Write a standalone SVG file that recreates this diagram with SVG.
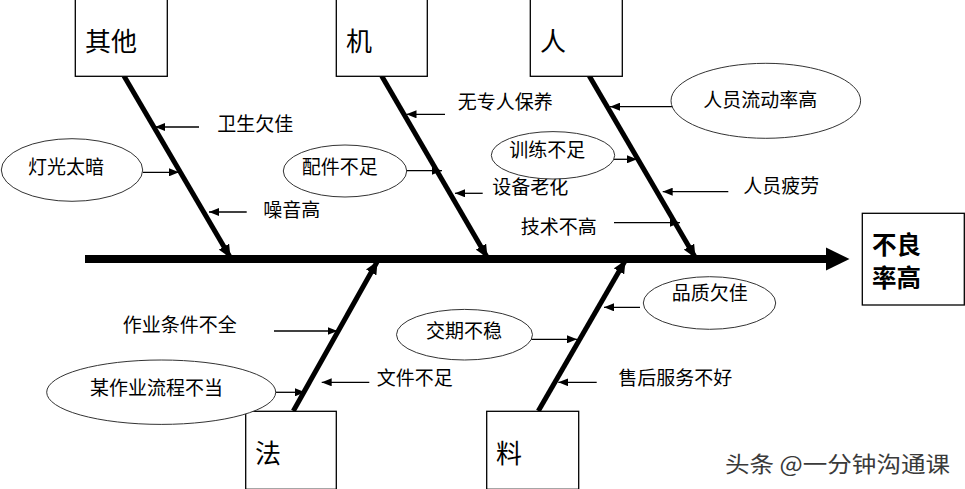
<svg xmlns="http://www.w3.org/2000/svg" width="965" height="489" viewBox="0 0 965 489">
<style>
text{font-family:"Noto Sans CJK SC","Noto Sans",sans-serif;fill:#000;dominant-baseline:central}
.box{fill:#fff;stroke:#000;stroke-width:1.3}
.ell{fill:#fff;stroke:#333;stroke-width:1}
.lbl{font-size:19px}
.cat{font-size:26px}
.res{font-size:24.5px;font-weight:bold}
.bone{stroke:#000;stroke-width:5;fill:none}
.thin{stroke:#000;stroke-width:1.3;fill:none;marker-end:url(#ah)}
.wm{font-size:22px;fill:#3a3a3a}
</style>
<defs>
<marker id="ah" markerUnits="userSpaceOnUse" markerWidth="10" markerHeight="8" refX="10" refY="4" orient="auto">
<path d="M0,0 L10,4 L0,8 z" fill="#000"/>
</marker>
<marker id="bh" markerUnits="userSpaceOnUse" markerWidth="13" markerHeight="12" refX="12" refY="6" orient="auto">
<path d="M0,0 L13,6 L0,12 z" fill="#000"/>
</marker>
</defs>

<g id="connectors">
<line x1="85" y1="259" x2="828" y2="259" stroke="#000" stroke-width="8"/>
<polygon points="826,247.5 849.5,259 826,270.5" fill="#000"/>
<line class="bone" x1="124" y1="76" x2="230" y2="257" marker-end="url(#bh)"/>
<line class="bone" x1="381.7" y1="76" x2="487" y2="257" marker-end="url(#bh)"/>
<line class="bone" x1="589.3" y1="76" x2="695" y2="257" marker-end="url(#bh)"/>
<line class="bone" x1="293.3" y1="411" x2="377" y2="262" marker-end="url(#bh)"/>
<line class="bone" x1="538.3" y1="411" x2="625" y2="261" marker-end="url(#bh)"/>
<line class="thin" x1="199" y1="127" x2="155" y2="127"/>
<line class="thin" x1="142.7" y1="172.3" x2="179" y2="172.3"/>
<line class="thin" x1="246.7" y1="212" x2="209" y2="212"/>
<line class="thin" x1="397.7" y1="170.7" x2="442" y2="170.7"/>
<line class="thin" x1="445" y1="114.3" x2="406.5" y2="114.3"/>
<line class="thin" x1="482.7" y1="193.3" x2="455" y2="193.3"/>
<line class="thin" x1="605.3" y1="159.3" x2="637" y2="159.3"/>
<line class="thin" x1="614" y1="222.7" x2="680" y2="222.7"/>
<line class="thin" x1="675" y1="106.7" x2="610" y2="106.7"/>
<line class="thin" x1="728.3" y1="191.7" x2="662.7" y2="191.7"/>
<line class="thin" x1="274" y1="331" x2="337.5" y2="331"/>
<line class="thin" x1="275.7" y1="392.3" x2="305" y2="392.3"/>
<line class="thin" x1="369.3" y1="382.3" x2="321.7" y2="382.3"/>
<line class="thin" x1="520" y1="339.3" x2="577" y2="339.3"/>
<line class="thin" x1="640" y1="307.3" x2="604" y2="307.3"/>
<line class="thin" x1="596.7" y1="382.3" x2="558.3" y2="382.3"/>
</g>

<g id="node-other"><rect class="box" x="75.3" y="-1" width="92" height="77.3"/><text class="cat" x="85" y="39">其他</text></g>
<g id="node-machine"><rect class="box" x="336.3" y="-1" width="91" height="77.3"/><text class="cat" x="346" y="39">机</text></g>
<g id="node-man"><rect class="box" x="530.3" y="-1" width="92" height="77.3"/><text class="cat" x="540" y="39">人</text></g>
<g id="node-method"><rect class="box" x="245.7" y="411.3" width="90.6" height="78"/><text class="cat" x="255" y="451">法</text></g>
<g id="node-material"><rect class="box" x="486.7" y="411.3" width="92" height="78"/><text class="cat" x="496" y="451">料</text></g>
<g id="node-result"><rect class="box" x="862.3" y="213.3" width="102" height="91.7"/><text class="res" x="872" y="243">不良</text><text class="res" x="872" y="276">率高</text></g>

<g id="node-weisheng"><text class="lbl" x="217.3" y="122.7">卫生欠佳</text></g>
<g id="node-dengguang"><ellipse class="ell" cx="72" cy="170" rx="70.7" ry="31.3"/><text class="lbl" x="28" y="165">灯光太暗</text></g>
<g id="node-zaoyin"><text class="lbl" x="263.3" y="208.3">噪音高</text></g>
<g id="node-peijian"><ellipse class="ell" cx="345" cy="171" rx="61.7" ry="26"/><text class="lbl" x="301.7" y="165">配件不足</text></g>
<g id="node-baoyang"><text class="lbl" x="457.7" y="100">无专人保养</text></g>
<g id="node-shebei"><text class="lbl" x="492.3" y="185">设备老化</text></g>
<g id="node-xunlian"><ellipse class="ell" cx="553" cy="155.3" rx="61.7" ry="23.7"/><text class="lbl" x="509.3" y="148.3">训练不足</text></g>
<g id="node-jishu"><text class="lbl" x="520.7" y="225">技术不高</text></g>
<g id="node-liudong"><ellipse class="ell" cx="765.8" cy="100.8" rx="94.8" ry="37.5"/><text class="lbl" x="703.3" y="98.3">人员流动率高</text></g>
<g id="node-pilao"><text class="lbl" x="743.3" y="184.3">人员疲劳</text></g>
<g id="node-zuoye"><text class="lbl" x="122.7" y="323.3">作业条件不全</text></g>
<g id="node-liucheng"><ellipse class="ell" cx="161.2" cy="392.2" rx="114.5" ry="32.2"/><text class="lbl" x="90" y="386.7">某作业流程不当</text></g>
<g id="node-wenjian"><text class="lbl" x="376.7" y="376.7">文件不足</text></g>
<g id="node-jiaoqi"><ellipse class="ell" cx="464.5" cy="334.7" rx="68" ry="25.3"/><text class="lbl" x="426" y="329">交期不稳</text></g>
<g id="node-pinzhi"><ellipse class="ell" cx="709.5" cy="303" rx="66.2" ry="26.3"/><text class="lbl" x="671.7" y="291.7">品质欠佳</text></g>
<g id="node-shouhou"><text class="lbl" x="618.3" y="376">售后服务不好</text></g>

<text class="wm" x="725" y="461.7" textLength="225" lengthAdjust="spacingAndGlyphs">头条 @一分钟沟通课</text>
</svg>
